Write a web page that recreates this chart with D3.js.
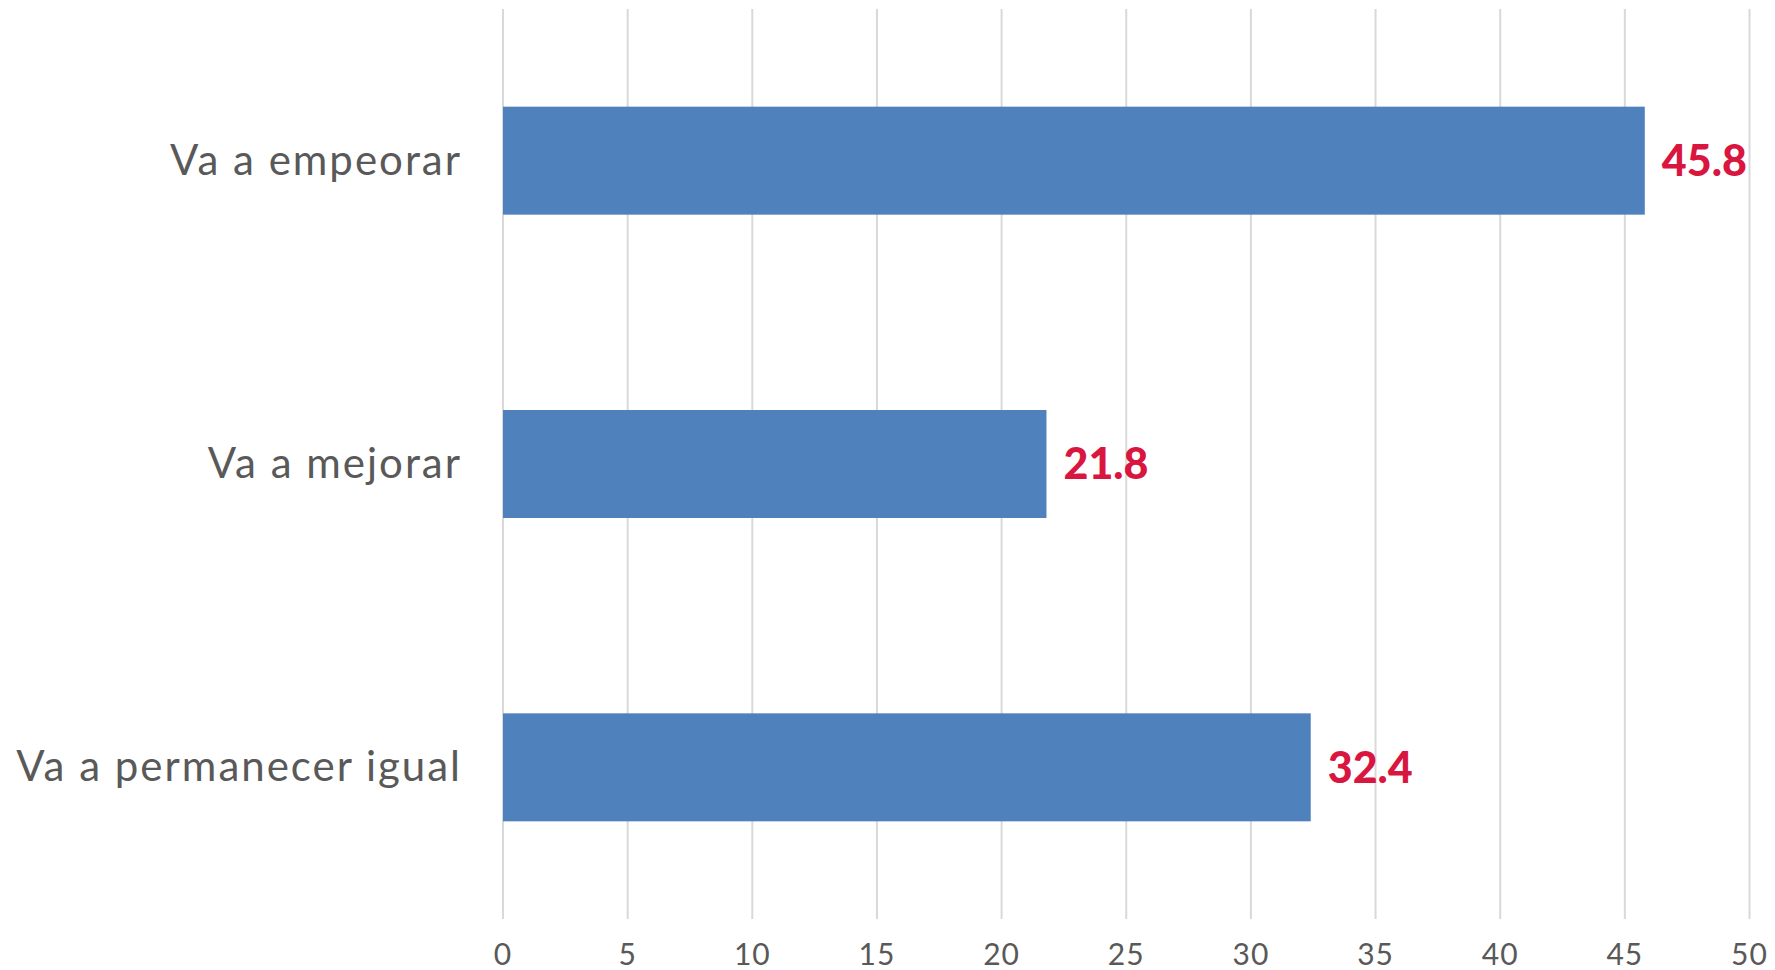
<!DOCTYPE html>
<html><head><meta charset="utf-8">
<script src="https://cdn.jsdelivr.net/npm/d3@7"></script>
<style>html,body{margin:0;padding:0;background:#fff;}</style>
</head><body>
<svg id="c" width="1775" height="970"></svg>
<script>
const categories = ["Va a empeorar", "Va a mejorar", "Va a permanecer igual"];
const values = [45.8, 21.8, 32.4];
const tickValues = [0, 5, 10, 15, 20, 25, 30, 35, 40, 45, 50];

(function () {
const svg = d3.select("#c");
const mLeft = 503, mRight = 1749.5, mTop = 9, mBottom = 919;
const font = "Lato, 'Open Sans', sans-serif";

const x = d3.scaleLinear().domain([0, 50]).range([mLeft, mRight]);
const y = d3.scaleBand().domain(categories).range([mTop, mBottom]).paddingInner(0.644).paddingOuter(0.322);

// gridlines
svg.append("g").selectAll("line").data(tickValues).join("line")
  .attr("x1", d => x(d)).attr("x2", d => x(d))
  .attr("y1", mTop).attr("y2", mBottom)
  .attr("stroke", "#D9D9D9").attr("stroke-width", 2);

// x tick labels
svg.append("g").selectAll("text").data(tickValues).join("text")
  .attr("x", d => x(d)).attr("y", 965)
  .attr("text-anchor", "middle")
  .attr("font-family", font).attr("font-size", 30)
  .attr("letter-spacing", 1)
  .attr("fill", "#595959")
  .text(d => d);

// bars
svg.append("g").selectAll("rect").data(values).join("rect")
  .attr("x", x(0)).attr("y", (d, i) => y(categories[i]))
  .attr("width", d => x(d) - x(0)).attr("height", y.bandwidth())
  .attr("fill", "#4F81BD");

// category labels
svg.append("g").selectAll("text").data(categories).join("text")
  .attr("x", 462).attr("y", d => y(d) + y.bandwidth() / 2)
  .attr("dy", "0.33em")
  .attr("text-anchor", "end")
  .attr("font-family", font).attr("font-size", 42)
  .attr("letter-spacing", 2)
  .attr("fill", "#595959")
  .text(d => d);

// value labels
svg.append("g").selectAll("text").data(values).join("text")
  .attr("x", d => x(d) + 17).attr("y", (d, i) => y(categories[i]) + y.bandwidth() / 2)
  .attr("dy", "0.36em")
  .attr("font-family", font).attr("font-size", 43).attr("font-weight", 900)
  .attr("fill", "#D9163F")
  .text(d => d.toFixed(1));
})();
</script>
</body></html>
